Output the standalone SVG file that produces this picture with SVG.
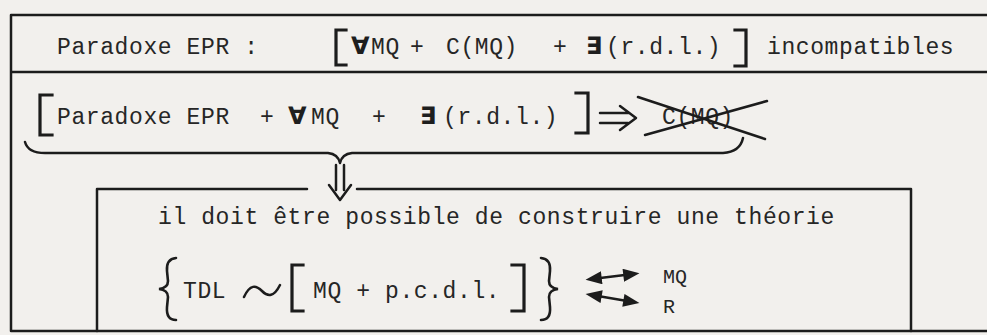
<svg xmlns="http://www.w3.org/2000/svg" width="987" height="335" viewBox="0 0 987 335">
<style>
.t{font-family:"Liberation Mono","Courier New",monospace;font-size:23px;letter-spacing:0.6px;fill:#262626}
.s{font-family:"Liberation Mono",monospace;font-size:20px;fill:#262626}
.q{font-family:"DejaVu Sans",sans-serif;font-size:24px;font-weight:bold;fill:#1e1e1e}
.ln{fill:none;stroke:#1c1c1c;stroke-width:2.5;stroke-linecap:round;stroke-linejoin:round}
.br{fill:none;stroke:#1c1c1c;stroke-width:3.2;stroke-linecap:square}
.bc{fill:none;stroke:#1c1c1c;stroke-width:2.6;stroke-linecap:round}
</style>
<defs>
<marker id="ah" viewBox="0 0 10 8" markerWidth="17" markerHeight="13" refX="6" refY="4" orient="auto-start-reverse" markerUnits="userSpaceOnUse">
<path d="M0,0 L10,4 L0,8 z" fill="#1c1c1c"/>
</marker>
</defs>
<rect width="987" height="335" fill="#f2f0ed"/>
<g id="frame">
<path class="ln" d="M11,15 H987 M11,15 V331 M11,72 H987 M11,331 H987"/>
</g>
<g id="row1">
<text class="t" x="57" y="54">Paradoxe EPR :</text>
<path class="br" d="M346,30 H336 V65 H346"/>
<text class="q" x="351" y="54">∀</text>
<text class="t" x="371" y="54">MQ</text>
<text class="t" x="410" y="54">+</text>
<text class="t" x="446" y="54">C(MQ)</text>
<text class="t" x="553" y="54">+</text>
<text class="q" x="586" y="54">∃</text>
<text class="t" x="606" y="54">(r.d.l.)</text>
<path class="br" d="M735,30 H746 V66 H735"/>
<text class="t" x="767" y="54">incompatibles</text>
</g>
<g id="row2">
<path class="br" d="M52,95 H40 V135 H52"/>
<text class="t" x="57" y="124">Paradoxe EPR</text>
<text class="t" x="260" y="124">+</text>
<text class="q" x="288" y="124">∀</text>
<text class="t" x="311" y="124">MQ</text>
<text class="t" x="372" y="124">+</text>
<text class="q" x="420" y="124">∃</text>
<text class="t" x="443" y="124">(r.d.l.)</text>
<path class="br" d="M576,93 H588 V133 H576"/>
<text class="t" x="662" y="124">C(MQ)</text>
<path class="ln" d="M638,97 L765,139 M645,135 L767,101" stroke-width="2.2"/>
</g>
<g id="theory-box">
<path class="ln" d="M97,331 V189 H307 M357,189 H911 V331"/>
<text class="t" x="158" y="224">il doit être possible de construire une théorie</text>
<path class="bc" d="M176,258 Q166,259 167,271 L168,281 Q168,288 159,289 Q168,290 168,297 L167,307 Q166,320 176,320"/>
<text class="t" x="183" y="298">TDL</text>
<path class="ln" d="M244,297 C250,284 256,285 262,291 C268,297 274,297 280,285" stroke-width="4"/>
<path class="br" d="M303,265 H292 V311 H303"/>
<text class="t" x="313" y="298">MQ + p.c.d.l.</text>
<path class="br" d="M512,265 H524 V311 H512"/>
<path class="bc" d="M541,258 Q551,259 550,271 L549,281 Q549,288 558,289 Q549,290 549,297 L550,307 Q551,320 541,320"/>
<text class="s" x="663" y="283">MQ</text>
<text class="s" x="663" y="313">R</text>
</g>
<g id="connectors">
<path class="ln" d="M25,142 Q28,153 45,153 L328,153 Q338,154 340,163 Q342,154 352,153 L723,153 Q740,152 743,138"/>
<path class="ln" d="M336,165 V190 M344,165 V190 M329,185 L340,200 L351,185"/>
<path class="ln" d="M600,113 H628 M600,123 H628 M620,106 L636,118 L620,130" stroke-width="3.2"/>
<path class="ln" d="M592,279 L633,274" stroke-width="4" marker-start="url(#ah)" marker-end="url(#ah)"/>
<path class="ln" d="M592,295 L633,302" stroke-width="4" marker-start="url(#ah)" marker-end="url(#ah)"/>
</g>
</svg>
